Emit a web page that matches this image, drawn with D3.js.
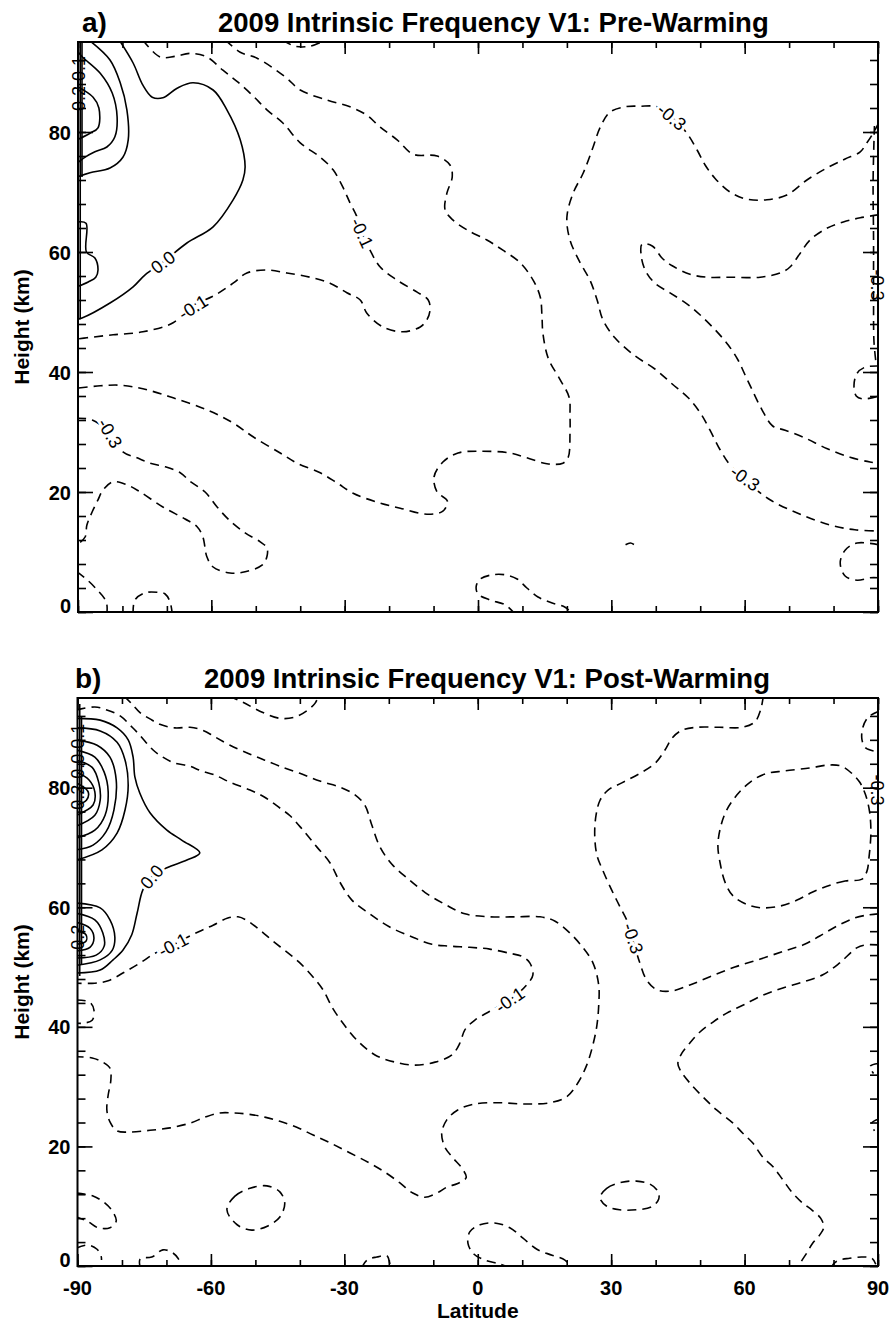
<!DOCTYPE html>
<html><head><meta charset="utf-8">
<script src="https://cdn.jsdelivr.net/npm/d3@7"></script>
<style>
body{margin:0;background:#fff;}
svg{display:block;font-family:"Liberation Sans",Arial,Helvetica,sans-serif;}
</style>
</head><body>
<svg id="chart" width="893" height="1327"></svg>
<script>
// ---------------- data ----------------
const latTicks = [-90, -60, -30, 0, 30, 60, 90];
const latTickLabels = ["-90", "-60", "-30", "0", "30", "60", "90"];
const heightTicks = [0, 20, 40, 60, 80];
const heightTickLabels = ["0", "20", "40", "60", "80"];
const latMinor = [-90,-80,-70,-60,-50,-40,-30,-20,-10,0,10,20,30,40,50,60,70,80,90];
const heightMinor = [0,4,8,12,16,20,24,28,32,36,40,44,48,52,56,60,64,68,72,76,80,84,88,92];
const panelLetters = ["a)", "b)"];
const panelTitles = ["2009 Intrinsic Frequency V1: Pre-Warming", "2009 Intrinsic Frequency V1: Post-Warming"];
const xTitle = "Latitude";
const yTitle = "Height (km)";

// Pre-warming contours: [latitude, height km]
const preContours = [
 {level:0.0, pts:[[-80.7,95.3],[-77.6,91.5],[-75.4,87.8],[-73.3,85.8],[-70.9,85.7],[-67.7,87.3],[-64.1,88.2],[-59.6,87.0],[-56.5,83.7],[-53.5,78.7],[-52.4,74.2],[-52.9,72.0],[-55.1,68.7],[-59.6,64.2],[-65.5,61.5],[-70.9,58.3],[-74.9,56.2],[-77.6,54.2],[-82.8,51.5],[-89.1,49.0],[-90.2,48.8]]},
 {level:0.1, pts:[[-87.5,95.3],[-82.8,92.0],[-80.5,88.2],[-79.0,83.7],[-78.7,78.7],[-79.9,75.8],[-82.8,74.0],[-87.3,73.2],[-90.2,72.5]]},
 {level:0.2, pts:[[-90.2,93.5],[-89.0,92.5],[-85.0,89.8],[-82.3,86.5],[-81.2,82.5],[-81.7,79.2],[-83.5,77.5],[-86.2,76.7],[-88.4,75.8],[-90.2,74.8]]},
 {level:0.3, pts:[[-90.2,87.6],[-86.6,85.8],[-85.3,84.0],[-85.5,80.7],[-87.3,79.8],[-90.2,78.7]]},
 {level:0.1, pts:[[-90.2,65.0],[-88.2,64.8],[-88.1,60.0],[-86.2,59.0],[-85.5,57.0],[-86.0,55.8],[-87.7,55.0],[-90.2,54.2]]},
 {level:0.1, pts:[[-89.5,95.3],[-89.5,48.8]]},
 {level:0.2, pts:[[-89.1,95.3],[-89.1,72.5]]},
 {level:-0.1, pts:[[-75.4,95.3],[-71.5,92.5],[-68.2,92.6],[-64.8,93.1],[-61.0,92.5],[-57.4,90.3],[-54.0,88.3],[-50.6,86.0],[-47.5,83.7],[-43.9,81.5],[-40.0,78.2],[-35.5,75.8],[-32.6,73.7],[-30.4,70.8],[-28.8,68.2],[-27.2,65.8],[-26.1,63.2],[-24.3,60.3],[-22.0,57.5],[-18.2,55.3],[-13.7,53.3],[-11.2,52.0],[-10.8,50.3],[-11.5,48.7],[-13.0,47.5],[-16.9,46.7],[-21.4,47.5],[-25.0,49.8],[-26.5,52.0],[-29.5,53.2],[-33.3,54.8],[-37.8,55.8],[-43.0,56.5],[-47.5,57.0],[-52.0,56.5],[-55.1,54.8],[-59.2,52.8],[-64.8,50.8],[-68.6,48.2],[-75.4,46.7],[-82.1,46.2],[-88.0,45.7],[-90.2,45.5]]},
 {level:-0.2, pts:[[-56.8,95.3],[-53.5,93.3],[-49.7,92.3],[-43.4,89.2],[-40.0,87.0],[-33.9,85.3],[-28.8,84.2],[-25.0,82.8],[-22.0,80.8],[-18.2,78.7],[-14.6,76.3],[-9.2,76.0],[-6.3,74.5],[-5.8,72.5],[-7.0,69.8],[-7.4,67.0],[-5.6,65.3],[-2.5,63.7],[2.0,62.0],[5.6,60.3],[9.5,58.2],[12.4,55.3],[14.0,52.5],[14.4,49.2],[14.6,46.5],[15.8,42.3],[18.5,38.7],[20.5,35.8],[20.7,32.8],[20.7,29.8],[20.3,25.8],[19.1,24.8],[15.5,24.7],[11.0,25.7],[7.2,26.5],[0.5,26.8],[-4.5,26.5],[-7.9,25.0],[-9.9,22.5],[-9.2,20.0],[-6.9,18.5],[-7.9,16.8],[-11.5,16.3],[-17.5,17.3],[-22.7,18.3],[-28.1,19.8],[-31.7,21.5],[-35.5,23.2],[-40.7,24.8],[-44.5,26.5],[-50.6,29.2],[-55.1,31.5],[-61.0,33.7],[-68.6,35.7],[-75.4,37.2],[-80.5,37.8],[-85.0,37.7],[-90.2,37.3]]},
 {level:-0.3, pts:[[-90.2,32.3],[-86.8,32.0],[-82.8,29.8],[-79.9,26.7],[-76.7,25.7],[-73.8,24.8],[-70.4,24.2],[-67.0,23.2],[-64.8,21.8],[-61.4,20.0],[-58.7,17.5],[-55.8,15.2],[-52.4,13.2],[-49.0,11.7],[-47.5,10.7],[-47.5,9.2],[-48.6,7.8],[-52.4,6.7],[-55.8,6.5],[-59.6,7.5],[-61.0,9.2],[-61.9,12.5],[-63.2,14.2],[-65.9,15.5],[-70.9,17.5],[-76.0,20.0],[-79.0,21.2],[-82.1,21.7],[-84.4,20.3],[-85.5,18.7],[-86.8,16.7],[-88.0,14.5],[-88.4,12.5],[-90.2,11.2]]},
 {level:-0.3, pts:[[-90.2,6.7],[-87.7,5.2],[-85.7,3.7],[-84.1,2.3],[-83.5,1.2],[-83.5,-0.3]]},
 {level:-0.3, pts:[[-77.6,-0.3],[-77.2,2.0],[-74.9,3.2],[-72.2,3.3],[-70.4,3.0],[-69.3,1.7],[-68.8,-0.3]]},
 {level:-0.3, pts:[[90.2,81.6],[88.9,79.8],[87.5,78.2],[86.0,76.7],[82.6,75.5],[78.5,74.0],[74.0,72.0],[69.5,69.5],[65.0,68.7],[60.5,68.8],[56.7,70.0],[53.3,72.3],[51.1,74.5],[49.3,77.0],[47.0,79.8],[43.6,82.5],[40.3,84.2],[36.5,84.3],[33.1,84.2],[29.7,83.3],[27.5,80.8],[25.9,77.5],[23.7,73.2],[21.4,69.8],[20.0,65.8],[20.7,62.0],[23.0,58.2],[25.2,55.3],[26.8,52.0],[28.1,48.7],[30.8,45.7],[35.3,42.7],[39.8,40.5],[43.7,38.0],[47.3,35.7],[50.0,33.2],[52.2,30.3],[54.5,27.0],[56.7,24.5],[60.1,22.0],[65.7,18.7],[72.5,16.3],[79.2,14.5],[84.8,13.7],[90.2,13.5]]},
 {level:-0.4, pts:[[90.2,66.2],[86.0,65.7],[82.2,65.0],[78.6,64.0],[74.7,62.0],[72.5,59.8],[70.2,57.5],[68.0,56.5],[63.5,55.8],[56.7,55.8],[51.5,55.8],[47.7,56.3],[43.7,57.7],[41.4,59.0],[39.2,61.0],[36.9,61.3],[36.7,59.5],[37.6,57.0],[39.8,54.8],[43.2,53.2],[47.3,51.2],[50.0,49.5],[53.4,47.0],[56.3,44.5],[58.5,42.0],[60.1,39.5],[61.7,37.0],[63.9,33.7],[66.3,31.0],[69.1,30.3],[73.6,29.0],[78.6,27.2],[83.7,25.8],[88.2,25.0],[90.2,24.8]]},
 {level:-0.3, pts:[[89.2,81.0],[88.9,72.0],[89.0,62.0],[89.0,52.0],[89.1,45.0],[89.6,41.2]]},
 {level:-0.4, pts:[[90.2,41.0],[87.1,40.8],[85.3,39.8],[84.6,37.8],[85.1,36.0],[86.6,35.5],[90.2,36.0]]},
 {level:-0.4, pts:[[90.2,11.2],[85.3,11.5],[82.6,10.3],[81.5,8.2],[82.6,6.0],[85.3,5.3],[88.2,5.7],[90.2,5.7]]},
 {level:-0.4, pts:[[33.2,11.2],[34.3,11.5],[35.4,11.1]]},
 {level:-0.3, pts:[[8.3,-0.3],[6.1,1.2],[2.7,2.0],[0.0,3.0],[-0.4,4.3],[0.5,5.5],[3.2,6.2],[6.1,6.2],[8.8,5.5],[11.0,4.0],[13.5,2.5],[16.7,1.5],[19.6,0.8],[21.2,-0.3]]},
 {level:-0.2, pts:[[-43.9,95.3],[-41.2,94.3],[-37.8,94.3],[-34.4,95.3]]}
];
const preLabels = [
 {text:"0.0", lat:-70.9, h:58.3, rot:-37, halo:true},
 {text:"-0.1", lat:-26.1, h:63.2, rot:65, halo:true},
 {text:"-0.1", lat:-64.1, h:50.8, rot:-32, halo:true},
 {text:"-0.3", lat:-82.8, h:29.8, rot:60, halo:true},
 {text:"-0.3", lat:43.6, h:82.5, rot:40, halo:true},
 {text:"-0.3", lat:60.1, h:22.3, rot:35, halo:true},
 {text:"-0.3", lat:89.8, h:54.5, rot:90, halo:false},
 {text:"0.1", lat:-89.9, h:90.6, rot:-90, halo:false},
 {text:"0.2", lat:-89.9, h:85.6, rot:-90, halo:false}
];

// Post-warming contours
const postContours = [
 {level:0.0, pts:[[-90.2,91.6],[-84.9,91.3],[-81.1,90.0],[-78.6,88.0],[-77.5,85.1],[-77.1,81.8],[-76.0,79.1],[-73.7,75.8],[-69.9,72.9],[-66.5,71.2],[-62.5,69.1],[-65.4,67.9],[-69.9,66.6],[-73.3,65.1],[-75.3,62.9],[-76.6,59.0],[-77.8,55.4],[-79.8,52.8],[-82.0,51.2],[-84.9,49.5],[-90.2,49.0]]},
 {level:0.1, pts:[[-90.2,90.0],[-84.9,89.5],[-81.1,87.6],[-79.3,84.6],[-78.6,80.4],[-79.3,76.3],[-81.1,72.4],[-84.5,69.6],[-90.2,67.9]]},
 {level:0.2, pts:[[-90.2,88.0],[-85.6,87.1],[-82.7,85.1],[-81.3,81.3],[-81.8,76.3],[-83.6,72.6],[-86.5,70.4],[-90.2,69.6]]},
 {level:0.3, pts:[[-90.2,86.3],[-86.1,85.1],[-84.0,82.6],[-83.1,79.3],[-83.8,75.4],[-86.1,72.9],[-90.2,71.6]]},
 {level:0.4, pts:[[-90.2,84.6],[-86.7,83.4],[-85.2,80.8],[-84.9,77.9],[-86.1,75.4],[-90.2,73.6]]},
 {level:0.5, pts:[[-90.2,82.6],[-87.4,81.3],[-86.1,79.3],[-86.5,77.1],[-90.2,75.4]]},
 {level:0.6, pts:[[-90.2,80.8],[-87.6,79.3],[-88.0,77.9],[-90.2,77.1]]},
 {level:0.1, pts:[[-90.2,60.7],[-84.9,59.9],[-82.7,57.9],[-81.6,55.0],[-82.2,52.8],[-84.9,51.2],[-90.2,50.3]]},
 {level:0.2, pts:[[-90.2,59.0],[-86.1,57.9],[-84.3,55.7],[-84.0,53.5],[-85.8,52.0],[-90.2,51.5]]},
 {level:0.3, pts:[[-90.2,57.5],[-87.2,56.5],[-86.3,54.8],[-87.2,53.3],[-90.2,52.7]]},
 {level:0.4, pts:[[-90.2,56.2],[-88.1,55.4],[-88.1,54.3],[-90.2,53.8]]},
 {level:0.1, pts:[[-89.5,94.0],[-89.5,48.5]]},
 {level:0.2, pts:[[-89.1,92.0],[-89.1,50.5]]},
 {level:-0.2, pts:[[-55.9,95.3],[-52.8,94.3],[-49.0,92.8],[-44.5,91.6],[-41.1,91.8],[-38.2,93.0],[-36.6,94.1],[-35.8,95.3]]},
 {level:-0.1, pts:[[-90.2,93.0],[-86.1,93.5],[-83.4,93.0],[-80.4,92.0],[-77.7,90.1],[-76.0,88.8],[-73.0,86.3],[-70.8,85.1],[-68.1,84.1],[-64.7,83.6],[-62.5,82.9],[-59.1,82.1],[-55.7,80.9],[-51.2,79.6],[-47.9,78.4],[-44.5,76.6],[-42.2,75.3],[-39.3,72.9],[-36.2,70.1],[-33.2,67.4],[-31.0,64.2],[-28.3,61.2],[-24.3,58.9],[-19.8,56.7],[-14.6,55.0],[-10.3,53.8],[-6.3,53.5],[-1.8,53.3],[2.7,53.0],[7.2,52.3],[9.9,51.8],[11.7,50.7],[12.4,48.7],[11.0,47.0],[7.2,44.5],[2.7,42.6],[-0.7,41.1],[-2.9,39.5],[-4.0,37.3],[-5.8,35.3],[-9.6,34.1],[-14.1,33.6],[-18.6,34.1],[-23.1,35.3],[-27.2,37.8],[-30.3,40.6],[-32.6,43.1],[-34.8,46.2],[-37.0,48.3],[-40.0,50.7],[-42.9,52.5],[-46.0,54.3],[-49.0,56.2],[-51.7,57.7],[-53.9,58.4],[-56.2,58.2],[-59.5,57.0],[-62.5,56.0],[-65.8,54.8],[-68.5,53.7],[-72.6,52.3],[-75.9,50.7],[-79.8,49.0],[-83.1,47.7],[-86.1,47.3],[-90.2,47.3]]},
 {level:-0.2, pts:[[-79.5,95.3],[-77.5,93.8],[-76.0,92.6],[-73.7,91.5],[-71.5,90.6],[-68.1,90.0],[-64.7,90.1],[-61.8,89.6],[-59.1,88.5],[-55.7,87.1],[-51.2,85.6],[-47.9,84.6],[-44.5,83.6],[-40.0,82.4],[-35.5,81.1],[-31.0,80.1],[-27.6,78.8],[-25.4,77.1],[-23.8,73.7],[-22.0,70.1],[-19.3,67.2],[-15.9,64.9],[-11.9,62.5],[-7.4,60.5],[-2.9,58.9],[2.7,58.4],[8.3,58.4],[14.0,58.4],[17.3,57.7],[20.7,55.7],[23.6,53.3],[25.9,50.7],[27.2,47.0],[27.2,43.6],[26.8,40.3],[25.9,37.0],[24.5,33.6],[22.5,30.6],[20.0,28.3],[16.2,27.3],[10.6,27.1],[5.0,27.3],[-0.7,27.1],[-4.5,26.1],[-7.0,24.4],[-8.1,22.2],[-7.4,19.9],[-5.6,18.1],[-3.6,16.4],[-2.6,14.8],[-4.5,13.8],[-6.9,13.2],[-9.2,12.2],[-11.9,11.5],[-14.6,12.2],[-17.5,13.9],[-20.9,15.7],[-24.3,17.2],[-28.7,18.9],[-33.2,20.6],[-37.0,21.9],[-40.7,23.2],[-44.5,24.2],[-47.9,24.9],[-51.7,25.4],[-55.0,25.6],[-58.0,25.6],[-61.3,24.9],[-64.7,23.9],[-69.2,23.1],[-73.7,22.7],[-78.2,22.4],[-81.1,22.6],[-82.7,24.1],[-83.4,26.1],[-83.1,28.6],[-82.5,31.1],[-82.7,33.1],[-84.3,34.1],[-86.7,34.8],[-90.2,35.0]]},
 {level:-0.3, pts:[[-90.2,44.5],[-87.2,44.1],[-86.3,42.8],[-86.7,41.1],[-88.8,40.6],[-90.2,40.6]]},
 {level:-0.3, pts:[[-90.2,12.2],[-86.5,11.7],[-83.8,10.5],[-82.0,9.0],[-81.3,7.5],[-82.7,6.4],[-85.4,6.4],[-87.6,7.4],[-90.2,8.2]]},
 {level:-0.3, closed:true, pts:[[-56.4,9.4],[-54.6,11.7],[-51.2,13.0],[-47.4,13.4],[-44.5,12.4],[-43.4,10.5],[-44.5,8.2],[-47.2,6.7],[-50.8,6.0],[-54.1,6.9]]},
 {level:-0.3, pts:[[-90.2,3.0],[-87.6,3.5],[-85.6,2.8],[-84.7,1.7],[-84.6,1.0]]},
 {level:-0.3, pts:[[-75.9,-0.3],[-75.9,1.2],[-73.3,1.5],[-70.8,2.7],[-68.8,2.3],[-67.4,1.3],[-66.5,-0.3]]},
 {level:-0.3, pts:[[-26.1,-0.3],[-24.9,1.0],[-22.7,1.5],[-20.4,1.7],[-19.8,0.5],[-19.5,-0.3]]},
 {level:-0.3, pts:[[7.2,-0.3],[5.0,0.3],[1.6,1.0],[-0.9,2.0],[-2.2,3.8],[-1.8,5.7],[0.5,6.9],[3.8,7.2],[7.2,6.4],[10.1,4.7],[13.3,2.8],[16.7,1.8],[19.6,1.0],[20.9,-0.3]]},
 {level:-0.3, pts:[[64.2,95.3],[63.6,93.0],[62.3,91.0],[59.4,90.1],[54.4,90.1],[49.3,90.1],[45.9,89.6],[43.7,88.3],[42.1,86.3],[39.9,84.1],[36.5,82.4],[32.4,80.8],[29.3,79.6],[27.5,77.9],[26.6,75.4],[26.3,72.1],[26.8,68.7],[28.1,66.2],[30.1,62.9],[31.9,60.2],[33.7,57.5],[34.9,54.5],[36.4,50.8],[38.0,47.8],[40.3,46.2],[43.6,46.0],[47.7,47.0],[52.6,48.5],[57.8,50.0],[63.4,51.3],[69.0,52.7],[73.5,53.8],[76.9,55.2],[80.9,56.9],[84.7,58.2],[87.6,58.7],[90.2,58.9]]},
 {level:-0.4, pts:[[90.2,53.7],[87.1,53.7],[85.2,53.2],[81.4,50.7],[77.6,48.7],[73.1,47.5],[68.6,46.5],[64.1,45.3],[59.6,43.6],[56.0,42.3],[52.9,40.8],[49.9,39.1],[47.7,37.3],[45.9,35.6],[45.0,33.9],[45.5,32.8],[47.7,30.6],[50.6,28.3],[53.7,26.1],[57.4,23.9],[59.6,22.2],[61.8,20.6],[64.1,18.2],[66.4,16.6],[68.6,14.4],[70.8,12.2],[73.1,10.5],[75.1,9.4],[77.1,8.0],[77.8,6.5],[76.9,5.2],[75.3,3.8],[74.0,2.2],[72.6,0.5],[72.4,-0.3]]},
 {level:-0.4, closed:true, pts:[[86.4,64.7],[82.6,64.4],[79.2,63.7],[75.2,62.5],[71.8,61.2],[68.0,60.2],[63.9,59.9],[60.8,60.4],[57.4,61.9],[55.6,64.2],[54.5,67.4],[54.0,70.4],[54.7,73.7],[56.0,76.3],[58.3,78.8],[61.2,80.9],[64.6,82.3],[69.0,82.8],[74.6,83.3],[79.1,83.8],[81.8,83.6],[84.1,82.4],[85.9,80.9],[87.2,78.8],[88.1,76.0],[88.4,72.5],[88.0,68.5],[87.5,66.0]]},
 {level:-0.4, pts:[[90.2,92.8],[87.8,91.8],[86.6,90.1],[86.4,88.0],[87.3,86.6],[90.2,86.0]]},
 {level:-0.4, pts:[[79.4,-0.3],[80.7,0.8],[83.6,1.3],[86.4,1.5],[88.6,1.3],[89.5,0.3]]},
 {level:-0.4, pts:[[90.2,33.9],[88.2,33.4],[89.0,32.2]]},
 {level:-0.4, pts:[[90.2,24.6],[88.6,23.9],[89.2,22.6]]},
 {level:-0.4, closed:true, pts:[[27.5,11.4],[29.0,13.0],[32.4,14.0],[35.7,14.2],[38.7,13.7],[40.5,12.5],[40.7,11.2],[39.1,9.9],[35.7,9.4],[31.9,9.4],[29.0,10.0]]}
];
const postLabels = [
 {text:"0.0", lat:-73.3, h:65.1, rot:-50, halo:true},
 {text:"-0.1", lat:-68.5, h:53.7, rot:-28, halo:true},
 {text:"-0.1", lat:7.2, h:44.5, rot:-35, halo:true},
 {text:"-0.3", lat:34.9, h:54.8, rot:72, halo:true},
 {text:"-0.3", lat:89.8, h:79.6, rot:90, halo:false},
 {text:"0.1", lat:-89.9, h:88.6, rot:-90, halo:false},
 {text:"0.0", lat:-89.9, h:83.6, rot:-90, halo:false},
 {text:"0.2", lat:-89.9, h:78.4, rot:-90, halo:false},
 {text:"0.2", lat:-89.9, h:55.0, rot:-90, halo:false}
];

// ---------------- drawing ----------------
const svg = d3.select("#chart");
const panels = [
 {top:42, bottom:612, left:78, right:878, letterX:82, titleX:218, contours:preContours, labels:preLabels, showX:false},
 {top:698, bottom:1266, left:77.5, right:878, letterX:75, titleX:204, contours:postContours, labels:postLabels, showX:true}
];

panels.forEach((p, i) => {
  const x = d3.scaleLinear().domain([-90, 90]).range([p.left, p.right]);
  const y = d3.scaleLinear().domain([0, 95]).range([p.bottom, p.top]);
  const g = svg.append("g");

  const clipId = "clip" + i;
  svg.append("clipPath").attr("id", clipId).append("rect")
    .attr("x", p.left).attr("y", p.top).attr("width", p.right - p.left).attr("height", p.bottom - p.top);

  const openLine = d3.line().x(d => x(d[0])).y(d => y(d[1])).curve(d3.curveCatmullRom.alpha(0.5));
  const closedLine = d3.line().x(d => x(d[0])).y(d => y(d[1])).curve(d3.curveCatmullRomClosed.alpha(0.5));

  const cg = g.append("g").attr("clip-path", `url(#${clipId})`);
  cg.selectAll("path.contour").data(p.contours).join("path")
    .attr("class", "contour")
    .attr("d", d => d.closed ? closedLine(d.pts) : openLine(d.pts))
    .attr("fill", "none")
    .attr("stroke", "#000")
    .attr("stroke-width", 1.6)
    .attr("stroke-dasharray", d => d.level < 0 ? "9,6" : null);

  // contour labels
  const lg = g.append("g");
  lg.selectAll("text").data(p.labels).join("text")
    .attr("transform", d => `translate(${x(d.lat)},${y(d.h)}) rotate(${d.rot})`)
    .attr("text-anchor", "middle")
    .attr("dy", "0.35em")
    .attr("font-size", 18)
    .attr("fill", "#000")
    .attr("stroke", d => d.halo ? "#fff" : "none")
    .attr("stroke-width", d => d.halo ? 6 : 0)
    .attr("paint-order", "stroke")
    .text(d => d.text);

  // axes (inward ticks on all sides)
  const styleAxis = sel => { sel.select(".domain").remove(); sel.selectAll("line").attr("stroke", "#000").attr("stroke-width", 1.6); };
  g.append("g").attr("transform", `translate(0,${p.bottom})`)
    .call(d3.axisBottom(x).tickValues(latTicks).tickSize(-12).tickFormat("")).call(styleAxis);
  g.append("g").attr("transform", `translate(0,${p.bottom})`)
    .call(d3.axisBottom(x).tickValues(latMinor).tickSize(-6).tickFormat("")).call(styleAxis);
  g.append("g").attr("transform", `translate(0,${p.top})`)
    .call(d3.axisTop(x).tickValues(latTicks).tickSize(-12).tickFormat("")).call(styleAxis);
  g.append("g").attr("transform", `translate(0,${p.top})`)
    .call(d3.axisTop(x).tickValues(latMinor).tickSize(-6).tickFormat("")).call(styleAxis);
  g.append("g").attr("transform", `translate(${p.left},0)`)
    .call(d3.axisLeft(y).tickValues(heightTicks).tickSize(-15).tickFormat("")).call(styleAxis);
  g.append("g").attr("transform", `translate(${p.left},0)`)
    .call(d3.axisLeft(y).tickValues(heightMinor).tickSize(-8).tickFormat("")).call(styleAxis);
  g.append("g").attr("transform", `translate(${p.right},0)`)
    .call(d3.axisRight(y).tickValues(heightTicks).tickSize(-15).tickFormat("")).call(styleAxis);
  g.append("g").attr("transform", `translate(${p.right},0)`)
    .call(d3.axisRight(y).tickValues(heightMinor).tickSize(-8).tickFormat("")).call(styleAxis);

  g.append("rect").attr("x", p.left).attr("y", p.top)
    .attr("width", p.right - p.left).attr("height", p.bottom - p.top)
    .attr("fill", "none").attr("stroke", "#000").attr("stroke-width", 2);

  // y tick labels
  g.selectAll("text.ylab").data(heightTicks).join("text")
    .attr("class", "ylab")
    .attr("x", p.left - 7)
    .attr("y", (d, k) => y(d) + (d === 0 ? 0.5 : 7.5))
    .attr("text-anchor", "end")
    .attr("font-size", 20).attr("font-weight", "bold")
    .text((d, k) => heightTickLabels[k]);

  // y title
  g.append("text")
    .attr("transform", `translate(28.5,${(p.top + p.bottom) / 2}) rotate(-90)`)
    .attr("text-anchor", "middle")
    .attr("font-size", 21).attr("font-weight", "bold")
    .text(yTitle);

  // panel letter and title
  g.append("text").attr("x", p.letterX).attr("y", p.top - 10)
    .attr("font-size", 28).attr("font-weight", "bold").text(panelLetters[i]);
  g.append("text").attr("x", p.titleX).attr("y", p.top - 10)
    .attr("font-size", 27.5).attr("font-weight", "bold").text(panelTitles[i]);

  if (p.showX) {
    g.selectAll("text.xlab").data(latTicks).join("text")
      .attr("class", "xlab")
      .attr("x", d => x(d))
      .attr("y", p.bottom + 29)
      .attr("text-anchor", "middle")
      .attr("font-size", 20).attr("font-weight", "bold")
      .text((d, k) => latTickLabels[k]);
    g.append("text").attr("x", (p.left + p.right) / 2).attr("y", p.bottom + 52)
      .attr("text-anchor", "middle")
      .attr("font-size", 21).attr("font-weight", "bold")
      .text(xTitle);
  }
});
</script>
</body></html>
